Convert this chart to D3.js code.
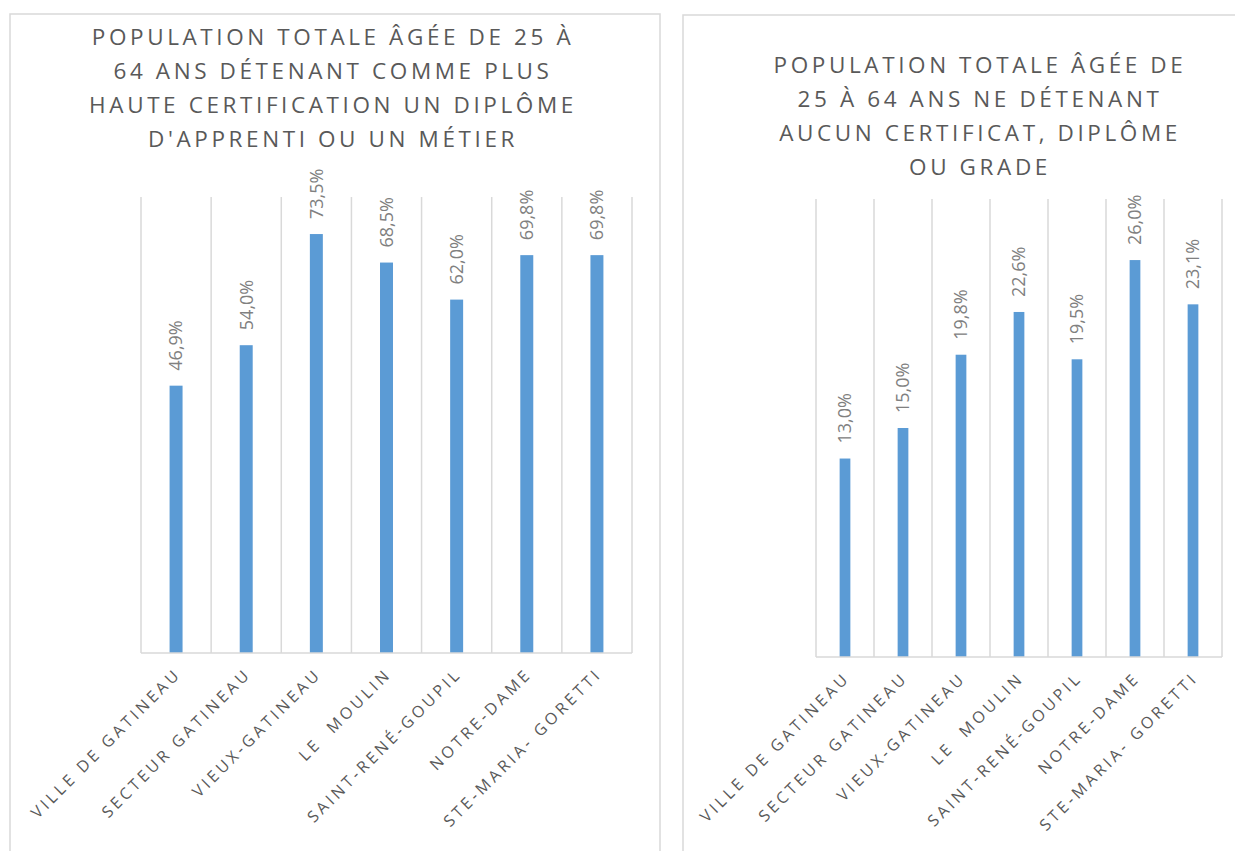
<!DOCTYPE html>
<html><head><meta charset="utf-8">
<script src="https://cdn.jsdelivr.net/npm/d3@7"></script>
<style>
html,body{margin:0;padding:0;background:#fff;}
svg{display:block;font-family:"Open Sans",sans-serif;}
text{white-space:pre;}
</style></head><body>
<svg id="chart" width="1235" height="851"></svg>
<script>
const categories = ["VILLE DE GATINEAU","SECTEUR GATINEAU","VIEUX-GATINEAU","LE  MOULIN","SAINT-RENÉ-GOUPIL","NOTRE-DAME","STE-MARIA- GORETTI"];
const valuesMetier = [46.9, 54.0, 73.5, 68.5, 62.0, 69.8, 69.8];
const valuesAucun = [13.0, 15.0, 19.8, 22.6, 19.5, 26.0, 23.1];
const titleMetier = ["POPULATION TOTALE ÂGÉE DE 25 À","64 ANS DÉTENANT COMME PLUS","HAUTE CERTIFICATION UN DIPLÔME","D'APPRENTI OU UN MÉTIER"];
const titleAucun = ["POPULATION TOTALE ÂGÉE DE","25 À 64 ANS NE DÉTENANT","AUCUN CERTIFICAT, DIPLÔME","OU GRADE"];
const yMaxMetier = 80;
const yMaxAucun = 30;

const svg = d3.select("#chart");
const fmt = v => d3.format(".1f")(v).replace(".", ",") + "%";

function panel(cfg) {
  const g = svg.append("g");
  g.append("rect").attr("x", cfg.box[0]).attr("y", cfg.box[1]).attr("width", cfg.box[2]).attr("height", cfg.box[3])
    .attr("fill", "#fff").attr("stroke", "#d9d9d9").attr("stroke-width", 1.5);
  const t = g.append("text").attr("fill", "#595959").attr("font-size", 22.5).attr("letter-spacing", 3.6)
    .attr("text-anchor", "middle");
  cfg.title.forEach((line, i) => {
    t.append("tspan").attr("x", cfg.titleX).attr("y", cfg.titleY + i * cfg.titleLH).text(line);
  });
  const x = d3.scaleBand().domain(categories).range([cfg.x0, cfg.x1]).padding(0);
  const y = d3.scaleLinear().domain([0, cfg.yMax]).range([cfg.yb, cfg.yt]);
  const edges = categories.map(c => x(c)).concat([cfg.x1]);
  g.selectAll("line.grid").data(edges).join("line").attr("class", "grid")
    .attr("x1", d => d).attr("x2", d => d).attr("y1", cfg.yt).attr("y2", cfg.yb)
    .attr("stroke", "#d9d9d9").attr("stroke-width", 1.5);
  const bw = x.bandwidth() * 0.185;
  g.selectAll("rect.bar").data(cfg.values).join("rect").attr("class", "bar")
    .attr("x", (d, i) => x(categories[i]) + x.bandwidth() / 2 - bw / 2)
    .attr("width", bw)
    .attr("y", d => y(d)).attr("height", d => y(0) - y(d))
    .attr("fill", "#5b9bd5");
  g.append("line").attr("x1", cfg.x0).attr("x2", cfg.x1).attr("y1", cfg.yb).attr("y2", cfg.yb)
    .attr("stroke", "#d9d9d9").attr("stroke-width", 1.5);
  g.selectAll("text.val").data(cfg.values).join("text").attr("class", "val")
    .attr("transform", (d, i) => `translate(${x(categories[i]) + x.bandwidth() / 2},${y(d) - 15}) rotate(-90)`)
    .attr("dy", "0.35em").attr("fill", "#808080").attr("font-size", 18)
    .text(d => fmt(d));
  g.selectAll("text.cat").data(categories).join("text").attr("class", "cat")
    .attr("transform", d => `translate(${x(d) + x.bandwidth() / 2 + 2},${cfg.yb + 18}) rotate(-45)`)
    .attr("text-anchor", "end").attr("dy", "0.35em").attr("fill", "#595959")
    .attr("font-size", 16).attr("letter-spacing", 3.4)
    .text(d => d);
}

panel({box: [10, 14, 650, 860], title: titleMetier, titleX: 333, titleY: 45, titleLH: 34,
  x0: 141, x1: 632, yt: 197, yb: 653, yMax: yMaxMetier, values: valuesMetier});
panel({box: [683, 15, 600, 860], title: titleAucun, titleX: 980, titleY: 73, titleLH: 34,
  x0: 816, x1: 1222, yt: 199, yb: 657, yMax: yMaxAucun, values: valuesAucun});
</script></body></html>
